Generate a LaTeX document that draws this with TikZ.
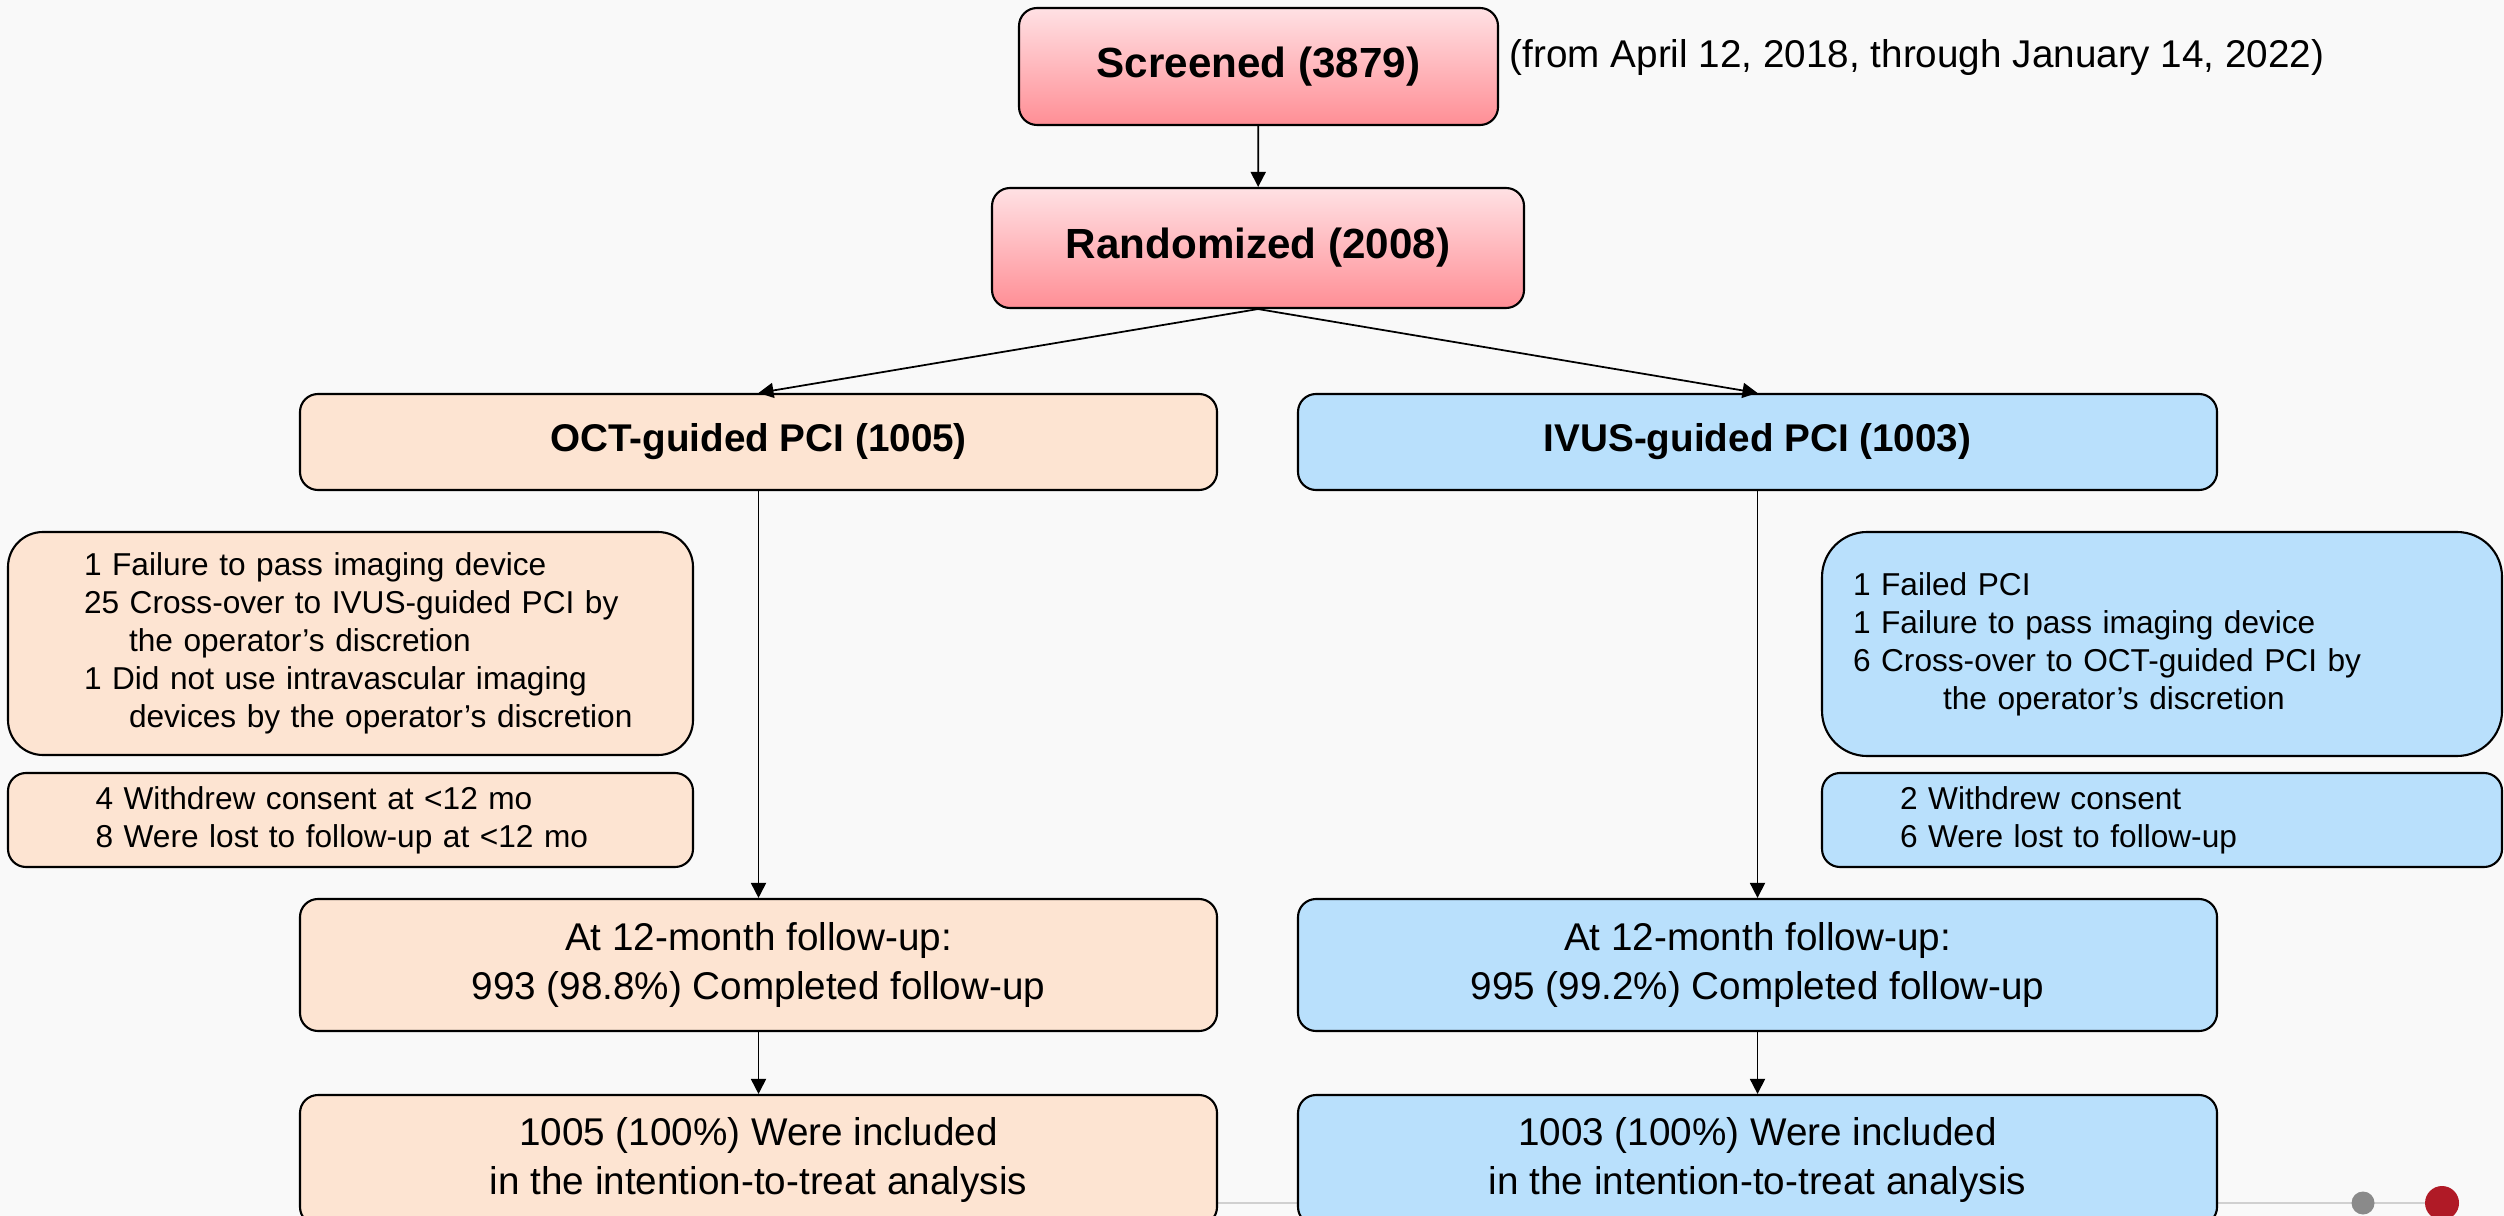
\documentclass[tikz,border=0pt]{standalone}
\usepackage{fontspec}
\setmainfont{Liberation Sans}
\usetikzlibrary{arrows.meta}

\definecolor{bgcol}{HTML}{F9F9F9}
\definecolor{peachfill}{HTML}{FDE4D2}
\definecolor{bluefill}{HTML}{B9E0FC}
\definecolor{pinktop}{HTML}{FFE1E4}
\definecolor{pinkbot}{HTML}{FF8E95}
\definecolor{barline}{HTML}{D0D0D0}
\definecolor{dotgray}{HTML}{8A8A8A}
\definecolor{dotred}{HTML}{B01A26}
\newcommand{\armfont}{\fontsize{11}{13.7}\selectfont}

\begin{document}
\begin{tikzpicture}[
    >={Triangle[length=1.5mm,width=1.5mm]},
    line width=0.5pt,
    armbox/.style={draw, line width=0.6pt, rounded corners=1.8mm, align=center, inner sep=0pt},
    octbox/.style={armbox, fill=peachfill},
    ivusbox/.style={armbox, fill=bluefill},
    pinkbox/.style={armbox, top color=pinktop, bottom color=pinkbot, font=\fontsize{12}{14}\selectfont\bfseries},
    dropbox/.style={align=left, inner ysep=0pt, font=\fontsize{9}{10.8}\selectfont},
  ]
    \fill [bgcol] (0, 0) rectangle (25.04, -12.16);
    \useasboundingbox (0, 0) rectangle (25.04, -12.16);
    % slide bar
    \draw [barline, line width=0.8pt] (12, -12.03) to (24.42, -12.03);
    % screening
    \node [pinkbox, minimum width=4.79cm, minimum height=1.17cm] (0) at (12.585, -0.665) {Screened (3879)};
    \node [anchor=west, inner sep=0pt, font=\armfont] (1) at (15.09, -0.575) {(from April 12, 2018, through January 14, 2022)};
    \node [pinkbox, minimum width=5.32cm, minimum height=1.20cm] (2) at (12.58, -2.48) {Randomized (2008)};
    \draw [->] (0) to (2);
    % arms
    \node [octbox, font=\armfont\bfseries, minimum width=9.17cm, minimum height=0.96cm] (3) at (7.585, -4.42) {OCT-guided PCI (1005)};
    \node [ivusbox, font=\armfont\bfseries, minimum width=9.19cm, minimum height=0.96cm] (4) at (17.575, -4.42) {IVUS-guided PCI (1003)};
    \draw [->] (2.south) to (3.north);
    \draw [->] (2.south) to (4.north);
    % OCT group (excluded)
    \node [octbox, dropbox, text width=5.65cm, inner xsep=0.6cm, minimum height=2.23cm, rounded corners=3.5mm] (5) at (3.505, -6.435) {%
    \hspace*{0.16cm}1 Failure to pass imaging device\\
    \hspace*{0.16cm}25 Cross-over to IVUS-guided PCI by\\
    \hspace*{0.61cm}the operator’s discretion\\
    \hspace*{0.16cm}1 Did not use intravascular imaging\\
    \hspace*{0.61cm}devices by the operator’s discretion};
    \node [octbox, dropbox, text width=5.10cm, inner xsep=0.875cm, minimum height=0.94cm] (6) at (3.505, -8.20) {%
    4 Withdrew consent at <12 mo\\
    8 Were lost to follow-up at <12 mo};
    % IVUS group (excluded)
    \node [ivusbox, dropbox, text width=6.18cm, inner xsep=0.31cm, minimum height=2.24cm, rounded corners=4.5mm] (7) at (21.62, -6.44) {%
    1 Failed PCI\\
    1 Failure to pass imaging device\\
    6 Cross-over to OCT-guided PCI by\\
    \hspace*{0.9cm}the operator’s discretion};
    \node [ivusbox, dropbox, text width=5.24cm, inner xsep=0.78cm, minimum height=0.94cm] (8) at (21.62, -8.20) {%
    2 Withdrew consent\\
    6 Were lost to follow-up};
    % follow-up
    \node [octbox, font=\armfont, minimum width=9.17cm, minimum height=1.32cm] (9) at (7.585, -9.65) {At 12-month follow-up:\\993 (98.8\%) Completed follow-up};
    \node [ivusbox, font=\armfont, minimum width=9.19cm, minimum height=1.32cm] (10) at (17.575, -9.65) {At 12-month follow-up:\\995 (99.2\%) Completed follow-up};
    \draw [->] (3) to (9);
    \draw [->] (4) to (10);
    % analysis
    \node [octbox, font=\armfont, minimum width=9.17cm, minimum height=1.30cm] (11) at (7.585, -11.60) {1005 (100\%) Were included\\in the intention-to-treat analysis};
    \node [ivusbox, font=\armfont, minimum width=9.19cm, minimum height=1.30cm] (12) at (17.575, -11.60) {1003 (100\%) Were included\\in the intention-to-treat analysis};
    \draw [->] (9) to (11);
    \draw [->] (10) to (12);
    % slide dots
    \fill [dotgray] (23.63, -12.03) circle (0.115);
    \fill [dotred] (24.42, -12.03) circle (0.17);
\end{tikzpicture}
\end{document}
